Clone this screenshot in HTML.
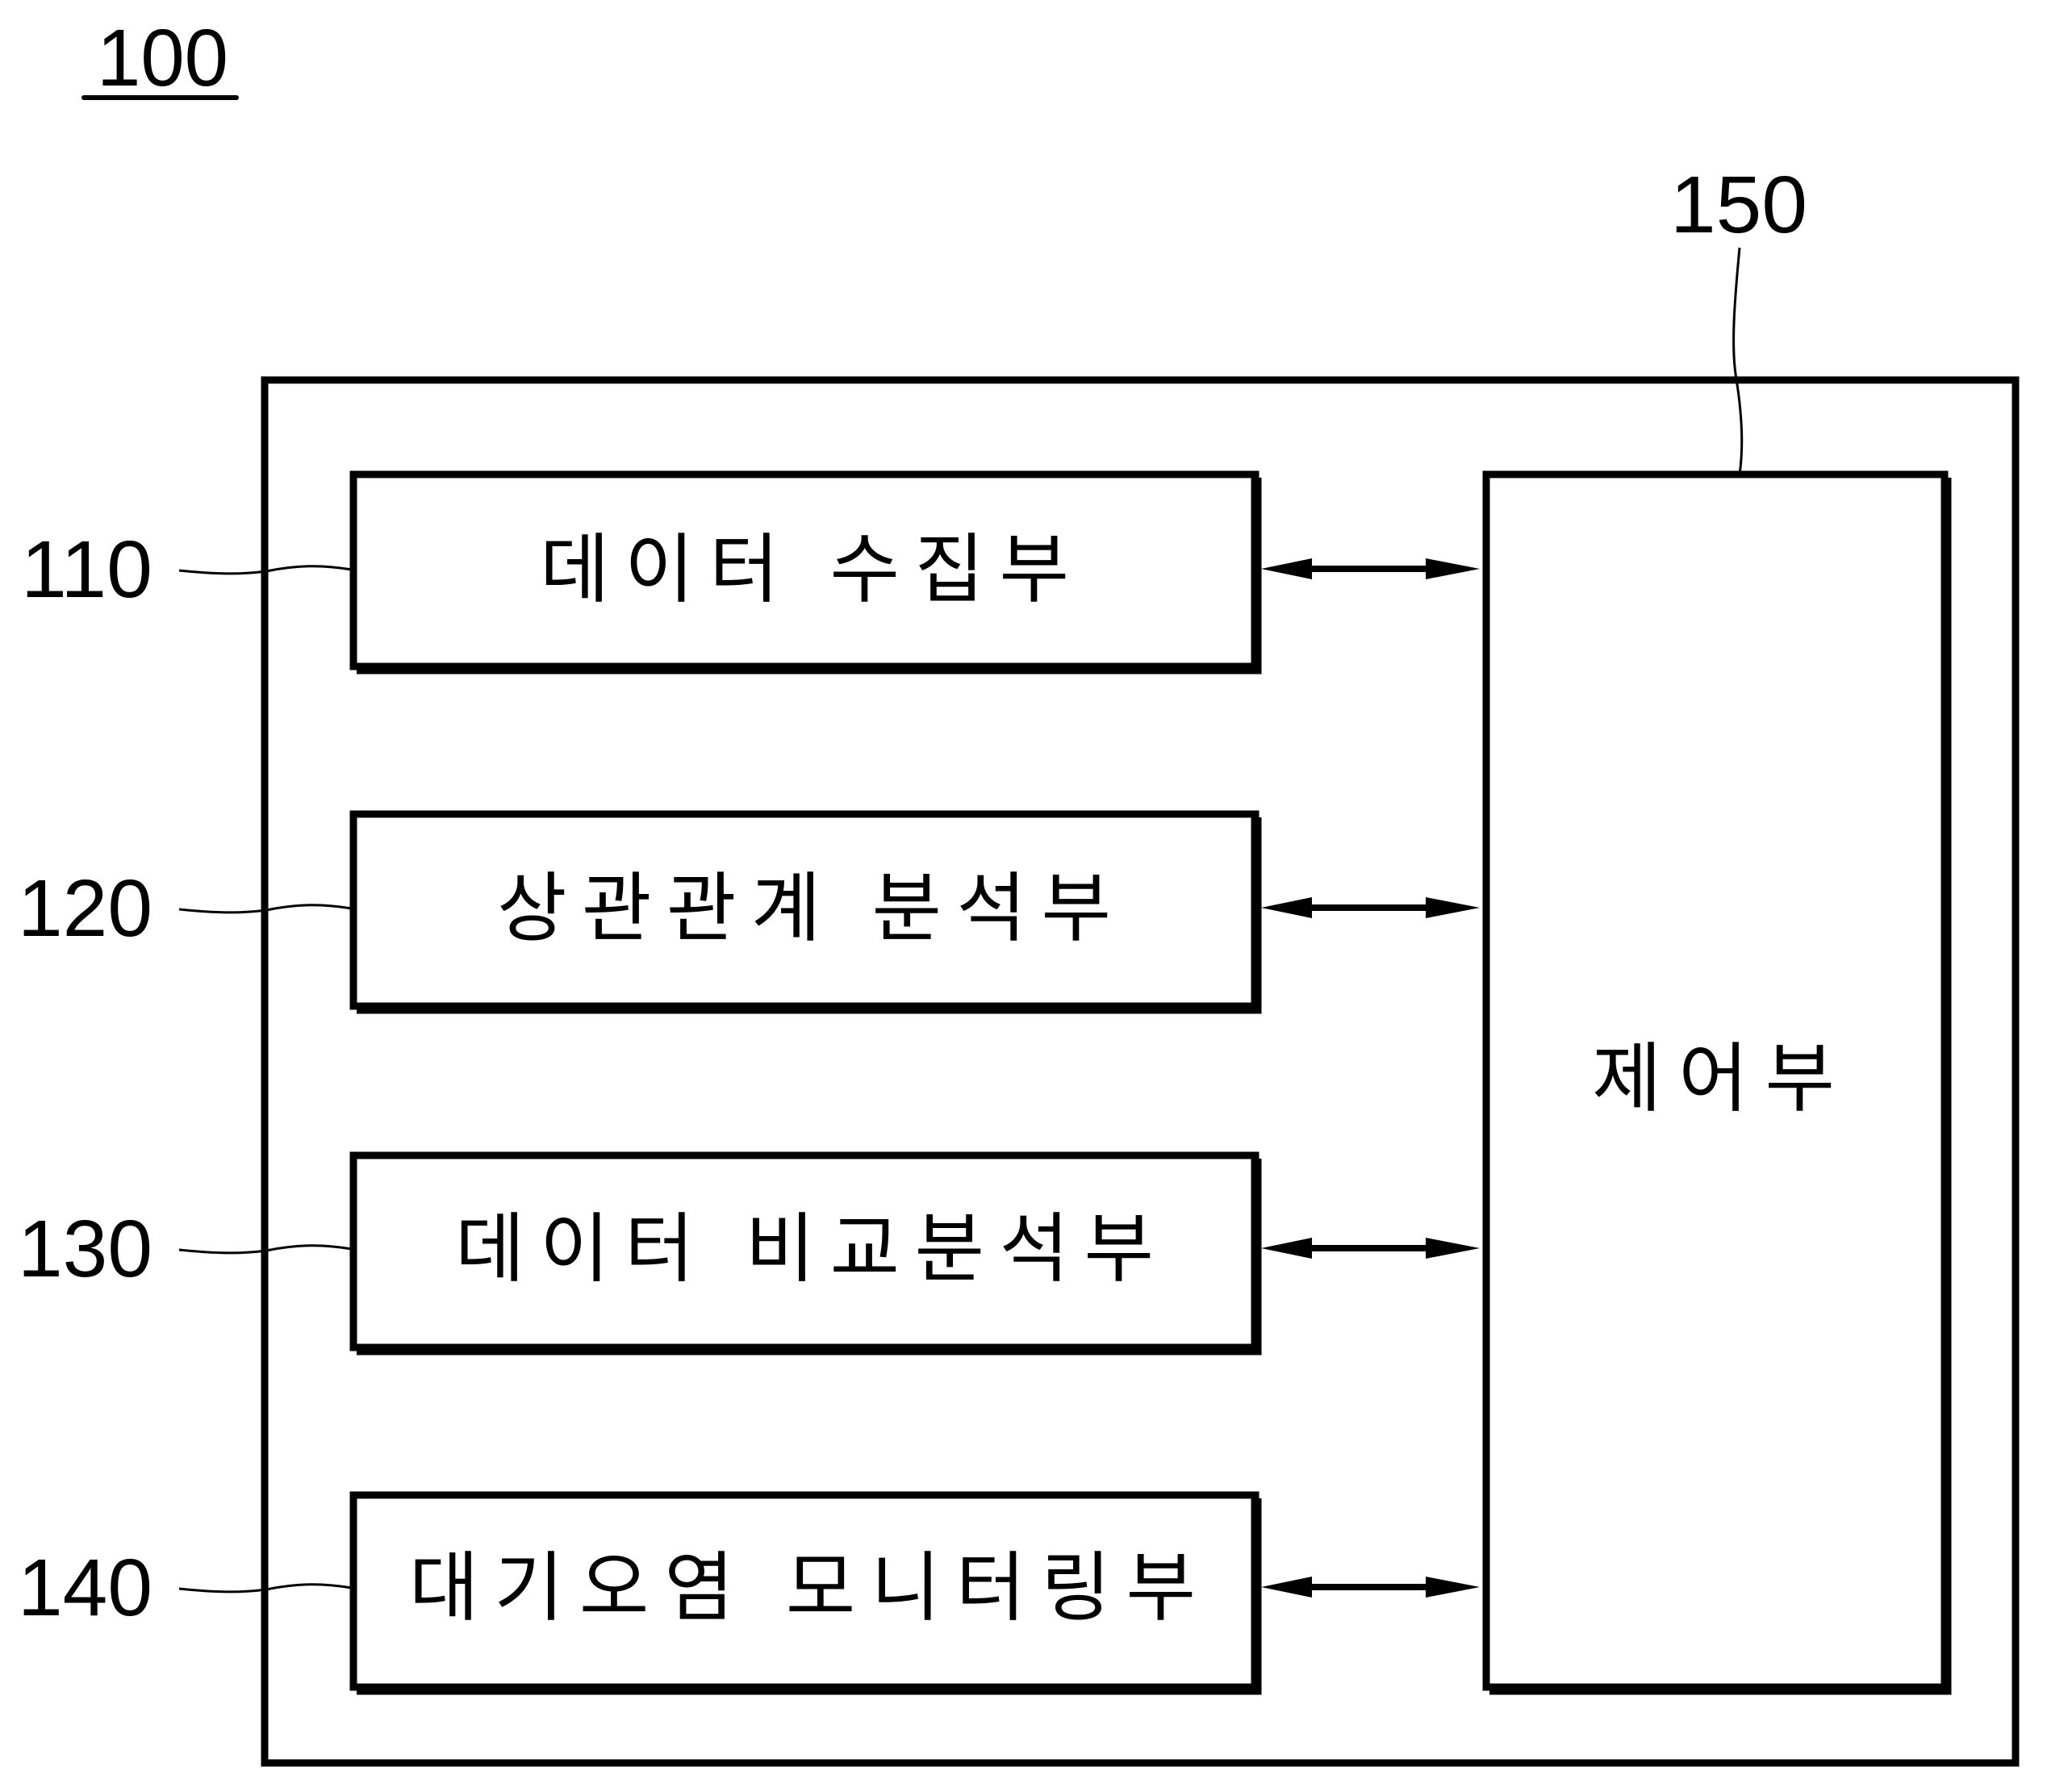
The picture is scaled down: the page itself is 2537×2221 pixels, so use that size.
<!DOCTYPE html>
<html><head><meta charset="utf-8"><style>html,body{margin:0;padding:0;background:#fff}svg{display:block}</style></head>
<body>
<svg width="2537" height="2221" viewBox="0 0 2537 2221" xmlns="http://www.w3.org/2000/svg">
<g fill="none" stroke="#000">
<rect x="328" y="471" width="2170" height="1714" stroke-width="9"/>
<g stroke-width="9">
<rect x="438" y="588" width="1118" height="238"/>
<rect x="438" y="1009" width="1118" height="238"/>
<rect x="438" y="1432" width="1118" height="238"/>
<rect x="438" y="1853" width="1118" height="238"/>
<rect x="1842" y="588" width="568" height="1503"/>
</g>
<g stroke-width="13">
<path d="M1557 592V829H442"/>
<path d="M1557 1013V1250H442"/>
<path d="M1557 1436V1673H442"/>
<path d="M1557 1857V2094H442"/>
<path d="M2412 592V2094H1846"/>
</g>
<g stroke-width="8">
<line x1="1600" y1="705" x2="1800" y2="705"/>
<line x1="1600" y1="1125" x2="1800" y2="1125"/>
<line x1="1600" y1="1547" x2="1800" y2="1547"/>
<line x1="1600" y1="1967" x2="1800" y2="1967"/>
</g>
<g stroke-width="3">
<path d="M222 707 C270 712 300 712 330 708 C370 700 400 700 436 706"/>
<path d="M222 1127 C270 1132 300 1132 330 1128 C370 1120 400 1120 436 1126"/>
<path d="M222 1549 C270 1554 300 1554 330 1550 C370 1542 400 1542 436 1548"/>
<path d="M222 1969 C270 1974 300 1974 330 1970 C370 1962 400 1962 436 1968"/>
<path d="M2156 307 C2150 370 2145 430 2152 470 C2160 520 2160 560 2156 588"/>
</g>
<line x1="104" y1="121" x2="293" y2="121" stroke-width="6" stroke-linecap="round"/>
</g>
<g fill="#000">
<polygon points="1563,705 1626,692 1626,718"/>
<polygon points="1834,705 1767,692 1767,718"/>
<polygon points="1563,1125 1626,1112 1626,1138"/>
<polygon points="1834,1125 1767,1112 1767,1138"/>
<polygon points="1563,1547 1626,1534 1626,1560"/>
<polygon points="1834,1547 1767,1534 1767,1560"/>
<polygon points="1563,1967 1626,1954 1626,1980"/>
<polygon points="1834,1967 1767,1954 1767,1980"/>
</g>
<g font-family="Liberation Sans, sans-serif" font-size="100" fill="#000">
<text x="120" y="106" textLength="163" lengthAdjust="spacingAndGlyphs">100</text>
<text x="26" y="740" textLength="163" lengthAdjust="spacingAndGlyphs">110</text>
<text x="22" y="1160" textLength="167" lengthAdjust="spacingAndGlyphs">120</text>
<text x="22" y="1582" textLength="167" lengthAdjust="spacingAndGlyphs">130</text>
<text x="22" y="2002" textLength="167" lengthAdjust="spacingAndGlyphs">140</text>
<text x="2070" y="288" textLength="170" lengthAdjust="spacingAndGlyphs">150</text>
</g>
<g font-family="Liberation Sans, Noto Sans CJK KR, sans-serif" font-size="94" fill="#000">
<text x="669" y="738" textLength="656" lengthAdjust="spacing">데이터 수집부</text>
<text x="616" y="1158" textLength="761" lengthAdjust="spacing">상관관계 분석부</text>
<text x="564" y="1580" textLength="866" lengthAdjust="spacing">데이터 비교분석부</text>
<text x="507" y="2000" textLength="975" lengthAdjust="spacing">대기오염 모니터링부</text>
<text x="1973" y="1369" textLength="301" lengthAdjust="spacing">제어부</text>
</g>
</svg>
</body></html>
